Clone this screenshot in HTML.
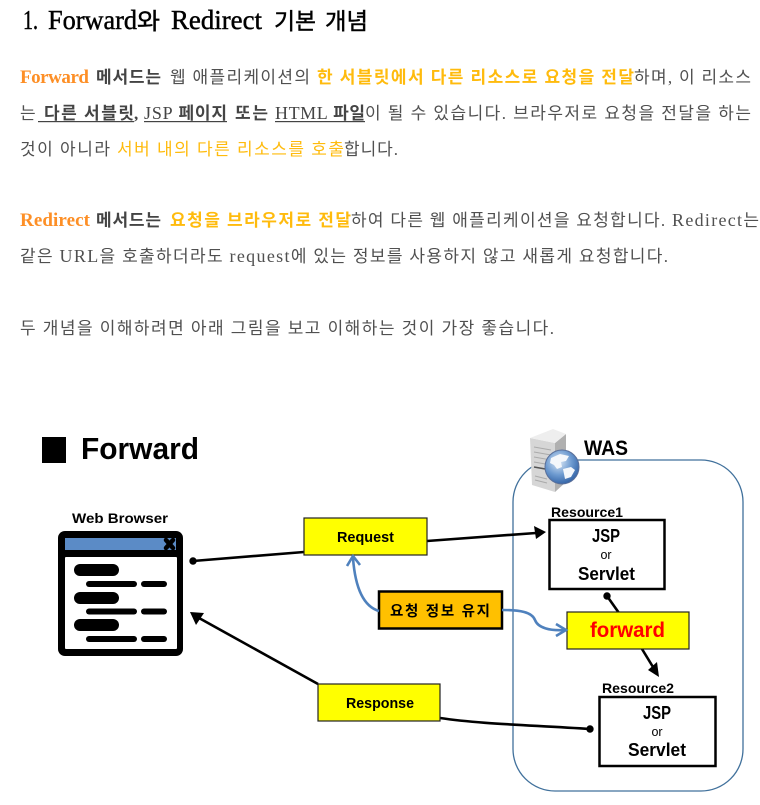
<!DOCTYPE html>
<html lang="ko"><head><meta charset="utf-8"><style>
html,body{margin:0;padding:0;background:#fff;width:760px;height:805px;overflow:hidden}
svg{display:block}
.b{font-family:"Liberation Serif","Noto Sans CJK KR",serif;font-size:17px;fill:#505050}
.b tspan{font-size:18px}
.s{font-weight:700;fill:#444}
.o{font-weight:700;fill:#fd8f26;font-size:19px}
.y{font-weight:700;fill:#ffbb0d}
.yl{fill:#ffbb0d}
.d{font-family:"Liberation Sans","Noto Sans CJK KR",sans-serif;font-weight:700;fill:#000}
.t{font-family:"Liberation Serif","Noto Sans CJK KR",serif;font-size:23px;fill:#000;stroke:#000;stroke-width:.45}
.l{font-size:27px}
</style></head><body>
<svg width="760" height="805" viewBox="0 0 760 805" xmlns="http://www.w3.org/2000/svg">
<defs>
<radialGradient id="g" cx="40%" cy="35%" r="70%"><stop offset="0" stop-color="#dbe8f6"/><stop offset=".55" stop-color="#6d9ad0"/><stop offset="1" stop-color="#2e5fa3"/></radialGradient>
</defs>
<text class="t l" x="23" y="29" textLength="15" lengthAdjust="spacingAndGlyphs">1.</text>
<text class="t l" x="48" y="29" textLength="89" lengthAdjust="spacingAndGlyphs">Forward</text>
<text class="t" x="137" y="29" textLength="23" lengthAdjust="spacingAndGlyphs">와</text>
<text class="t l" x="171" y="29" textLength="91" lengthAdjust="spacingAndGlyphs">Redirect</text>
<text class="t" x="274" y="29" textLength="42" lengthAdjust="spacingAndGlyphs">기본</text>
<text class="t" x="325" y="29" textLength="43" lengthAdjust="spacingAndGlyphs">개념</text>

<text class="b o" x="20" y="83" textLength="69">Forward</text>
<text class="b s" x="96" y="83" textLength="65">메서드는</text>
<text class="b" x="170" y="83" textLength="140">웹 애플리케이션의</text>
<text class="b y" x="317" y="83" textLength="317">한 서블릿에서 다른 리소스로 요청을 전달</text>
<text class="b" x="634" y="83" textLength="117">하며, 이 리소스</text>

<text class="b" x="20" y="119" textLength="18">는</text>
<text class="b s" x="44" y="119" textLength="90">다른 서블릿</text>
<text class="b s" x="134" y="119">,</text>
<text class="b s" x="144" y="119" textLength="83"><tspan style="font-weight:400">JSP</tspan> 페이지</text>
<text class="b s" x="235" y="119" textLength="33">또는</text>
<text class="b s" x="275" y="119" textLength="90"><tspan style="font-weight:400">HTML</tspan> 파일</text>
<text class="b" x="365" y="119" textLength="386">이 될 수 있습니다. 브라우저로 요청을 전달을 하는</text>
<rect x="38" y="121" width="96" height="1.2" fill="#444"/>
<rect x="144" y="121" width="83" height="1.2" fill="#444"/>
<rect x="275" y="121" width="90" height="1.2" fill="#444"/>

<text class="b" x="20" y="155" textLength="90">것이 아니라</text>
<text class="b yl" x="117" y="155" textLength="227">서버 내의 다른 리소스를 호출</text>
<text class="b" x="344" y="155" textLength="54">합니다.</text>

<text class="b o" x="20" y="226" textLength="70">Redirect</text>
<text class="b s" x="96" y="226" textLength="65">메서드는</text>
<text class="b y" x="170" y="226" textLength="181">요청을 브라우저로 전달</text>
<text class="b" x="351" y="226" textLength="408">하여 다른 웹 애플리케이션을 요청합니다. <tspan>Redirect</tspan>는</text>
<text class="b" x="20" y="262" textLength="648">같은 <tspan>URL</tspan>을 호출하더라도 <tspan>request</tspan>에 있는 정보를 사용하지 않고 새롭게 요청합니다.</text>
<text class="b" x="20" y="334" textLength="534">두 개념을 이해하려면 아래 그림을 보고 이해하는 것이 가장 좋습니다.</text>

<rect x="42" y="437" width="24" height="26" fill="#000"/>
<text class="d" x="81" y="459" font-size="31" textLength="118" lengthAdjust="spacingAndGlyphs">Forward</text>

<text class="d" x="72" y="523" font-size="14" textLength="96" lengthAdjust="spacingAndGlyphs">Web Browser</text>
<rect x="58" y="531" width="125" height="125" rx="7" fill="#000"/>
<rect x="65" y="538" width="111" height="12" fill="#5b8bc6"/>
<rect x="65" y="557" width="112" height="92" rx="1" fill="#fff"/>
<path d="M166 540l7 8M173 540l-7 8" stroke="#000" stroke-width="4.500" stroke-linecap="round"/>
<g fill="#000">
<rect x="74" y="564" width="45" height="12" rx="6"/><rect x="74" y="592" width="45" height="12" rx="6"/><rect x="74" y="619" width="45" height="12" rx="6"/>
<rect x="86" y="581" width="51" height="6" rx="3"/><rect x="141" y="581" width="26" height="6" rx="3"/>
<rect x="86" y="608.500" width="51" height="6" rx="3"/><rect x="141" y="608.500" width="26" height="6" rx="3"/>
<rect x="86" y="636" width="51" height="6" rx="3"/><rect x="141" y="636" width="26" height="6" rx="3"/>
</g>

<rect x="513" y="460" width="230" height="331" rx="42" fill="#fff" stroke="#41719c" stroke-width="1.3"/>

<polygon points="530,438 555,443 555,492 532,485" fill="#d6d6d6"/>
<polygon points="555,443 566,434 566,482 555,492" fill="#b0b0b0"/>
<polygon points="530,438 553,429 566,434 555,443" fill="#eeeeee"/>
<path d="M534 447l17 3M534 452l17 3M534 457l17 3M534 462l17 3" stroke="#aaa" stroke-width="1"/>
<path d="M534 467l17 3" stroke="#555" stroke-width="1.4"/>
<path d="M535 476l12 3M535 480l12 3" stroke="#aaa" stroke-width="1"/>
<circle cx="562" cy="467" r="17" fill="url(#g)" stroke="#5a6f99"/>
<path d="M551 458l9-4 9 2-3 5-5 1 1 5-5 2-3-4-4-2zM563 469l8-2 4 3-4 7-6 2-1-5z" fill="#f4f7fb"/>
<text class="d" x="584" y="455" font-size="21" textLength="44" lengthAdjust="spacingAndGlyphs">WAS</text>

<text class="d" x="551" y="517" font-size="14" textLength="72" lengthAdjust="spacingAndGlyphs">Resource1</text>
<rect x="549.500" y="520" width="115" height="69" fill="#fff" stroke="#000" stroke-width="2.500"/>
<text class="d" x="592" y="542" font-size="18" textLength="28" lengthAdjust="spacingAndGlyphs">JSP</text>
<text x="606" y="559" font-size="12.500" text-anchor="middle" style="font-family:'Liberation Sans',sans-serif">or</text>
<text class="d" x="578" y="580" font-size="18" textLength="57" lengthAdjust="spacingAndGlyphs">Servlet</text>

<text class="d" x="602" y="693" font-size="14" textLength="72" lengthAdjust="spacingAndGlyphs">Resource2</text>
<rect x="599.500" y="697" width="116" height="69" fill="#fff" stroke="#000" stroke-width="2.500"/>
<text class="d" x="643" y="719" font-size="18" textLength="28" lengthAdjust="spacingAndGlyphs">JSP</text>
<text x="657" y="736" font-size="12.500" text-anchor="middle" style="font-family:'Liberation Sans',sans-serif">or</text>
<text class="d" x="628" y="756" font-size="18" textLength="58" lengthAdjust="spacingAndGlyphs">Servlet</text>

<g stroke="#000" stroke-width="2.600" fill="none">
<path d="M193 561L304 552"/>
<path d="M427 541L536 533"/>
<path d="M318 684L199 618"/>
<path d="M440 718C480 724 530 725 590 729"/>
<path d="M607 596L619 613"/>
<path d="M642 649L653 667"/>
</g>
<g fill="#000">
<circle cx="193" cy="561" r="3.700"/>
<circle cx="590" cy="729" r="3.700"/>
<circle cx="607" cy="596" r="3.700"/>
<polygon points="546,532 534,526 536,539"/>
<polygon points="190,612 204,613 196,625"/>
<polygon points="659,677 648,670 657,662"/>
</g>

<rect x="304" y="518" width="123" height="37" fill="#ff0" stroke="#222" stroke-width="1.200"/>
<text class="d" x="337" y="542" font-size="14.500" textLength="57" lengthAdjust="spacingAndGlyphs">Request</text>
<rect x="318" y="684" width="122" height="37" fill="#ff0" stroke="#222" stroke-width="1.200"/>
<text class="d" x="346" y="708" font-size="14.500" textLength="68" lengthAdjust="spacingAndGlyphs">Response</text>
<rect x="567" y="612" width="122" height="37" fill="#ff0" stroke="#222" stroke-width="1.200"/>
<text class="d" x="590" y="637" font-size="21" textLength="75" lengthAdjust="spacingAndGlyphs" style="fill:#f00">forward</text>
<rect x="379" y="591.500" width="123" height="37" fill="#ffc000" stroke="#000" stroke-width="2.500"/>
<text class="d" x="390" y="616" font-size="14.500" textLength="100">요청 정보 유지</text>

<g stroke="#4f81bd" stroke-width="2.600" fill="none">
<path d="M379 611C362 606 355 585 353 558"/>
<path d="M347 566L353 556L360 565"/>
<path d="M502 610C520 610 532 612 535 620C538 628 550 631 565 630"/>
<path d="M556 624L566 630L556 636"/>
</g>
</svg>
</body></html>
